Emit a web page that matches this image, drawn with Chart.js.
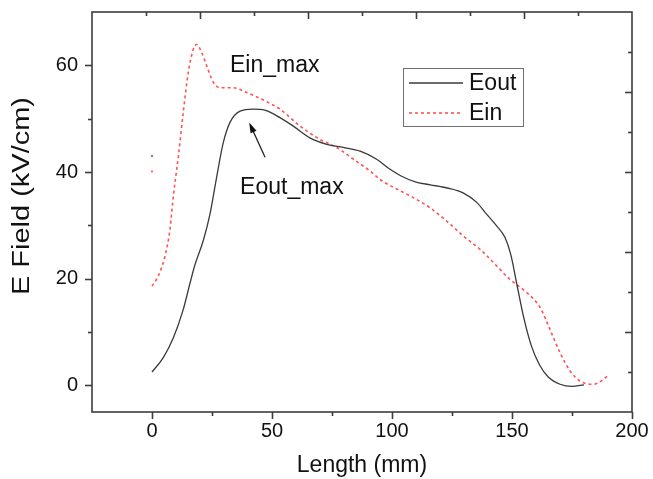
<!DOCTYPE html>
<html><head><meta charset="utf-8">
<script src="https://cdn.jsdelivr.net/npm/chart.js@4"></script>
<style>html,body{margin:0;padding:0;background:#fff;}#wrap{width:653px;height:479px;position:relative;}</style>
</head><body><div id="wrap"><canvas id="c" width="653" height="479"></canvas></div>
<script>
// ---- data ----
const eoutX = [0, 4.7, 8.9, 13, 15.8, 17.9, 21.4, 24.2, 27, 29.7, 32.5, 36.7, 42.2, 47, 53.3, 58.9, 65.8, 72.8, 79.7, 86.7, 93.6, 99.2, 104, 110, 116, 123, 130, 135.3, 139.4, 143.6, 147.1, 149.5, 152, 155, 158, 161.5, 165, 170, 175, 180];
const eoutY = [2.5, 5.2, 8.9, 14.2, 19.1, 22.6, 27.2, 32.2, 39.2, 45.5, 49.3, 51.4, 51.8, 51.6, 50.2, 48.6, 46.4, 45.2, 44.6, 43.9, 42.4, 40.5, 39.2, 38.1, 37.6, 37, 36, 34.3, 32.1, 29.9, 27.7, 24.5, 19, 12.5, 7.5, 3.8, 1.6, 0.2, -0.2, 0.1];
const einX = [0, 2.6, 5.4, 7.5, 8.9, 11, 13, 15.1, 17.2, 18.6, 20.7, 22.8, 25.6, 28.3, 33.9, 39.5, 45, 49, 53.3, 61.7, 70, 77, 83.9, 90.8, 95, 102, 108.9, 115.8, 122.8, 129.7, 136.7, 143.6, 148.8, 156.1, 161.7, 165.8, 170, 174.2, 178.3, 183.9, 188.1, 190.1];
const einY = [18.6, 20.5, 24.2, 29.3, 35.5, 43, 51.1, 58.6, 63, 63.9, 62.4, 59.9, 56.8, 55.8, 55.8, 54.9, 53.8, 52.9, 51.8, 48.6, 46.1, 44.6, 42.4, 40.2, 38.6, 36.8, 35.2, 33.3, 30.8, 28, 25.5, 22.4, 20, 17.4, 14.6, 10.5, 6.1, 2.7, 0.8, 0.2, 1.1, 1.9];
const seriesNames = ['Eout', 'Ein'];
const strayX = [0, 0];
const strayY = [43, 40.1];
const xTickLabels = [0, 50, 100, 150, 200];
const yTickLabels = [0, 20, 40, 60];
const noteText = ['Ein_max', 'Eout_max'];
const noteX = [32.5, 36.7];
const noteY = [58.7, 35.8];
const arrowFrom = [47.1, 42.75];
const arrowTo = [40.5, 49.3];

const FONT = '"Liberation Sans", Arial, Helvetica, sans-serif';
const pts = (xs, ys) => xs.map((v, i) => ({x: v, y: ys[i]}));

const framePlugin = {
  id: 'frame',
  afterDatasetsDraw(chart) {
    const {ctx, chartArea: a, scales: {x, y}} = chart;
    ctx.save();
    ctx.strokeStyle = '#3c3c3c';
    ctx.lineWidth = 1.6;
    const ln = (x1, y1, x2, y2) => { ctx.beginPath(); ctx.moveTo(x1, y1); ctx.lineTo(x2, y2); ctx.stroke(); };
    ctx.strokeRect(a.left, a.top, a.right - a.left, a.bottom - a.top);
    x.ticks.forEach(t => {
      const v = t.value;
      if (v <= x.min) return;
      const px = Math.round(x.getPixelForValue(v)) + 0.5;
      const L = (v % 50 === 0) ? 7 : 4;
      ln(px, a.bottom, px, a.bottom + L);
    });
    y.ticks.forEach(t => {
      const v = t.value;
      if (v <= y.min || v >= y.max || v % 10 !== 0) return;
      const py = Math.round(y.getPixelForValue(v)) + 0.5;
      const L = (v % 20 === 0) ? 7 : 4;
      ln(a.left - L, py, a.left, py);
    });
    for (let k = 1; k < 10; k++) {
      const L = (k % 2 === 0) ? 7 : 4;
      const px = Math.round(a.left + (a.right - a.left) * k / 10) + 0.5;
      ln(px, a.top, px, a.top + L);
      const py = Math.round(a.top + (a.bottom - a.top) * k / 10) + 0.5;
      ln(a.right - L, py, a.right, py);
    }
    ctx.restore();
  },
  afterDraw(chart) {
    const {ctx, scales: {x, y}} = chart;
    const ds = chart.data.datasets;
    ctx.save();
    ctx.strokeStyle = '#707070';
    ctx.lineWidth = 1;
    ctx.strokeRect(403.5, 68.5, 120, 58);
    ctx.font = '23px ' + FONT;
    ctx.fillStyle = '#111';
    ctx.textBaseline = 'middle';
    ctx.textAlign = 'left';
    const rows = [84, 114];
    for (let i = 0; i < 2; i++) {
      ctx.strokeStyle = ds[i].borderColor;
      ctx.lineWidth = ds[i].borderWidth;
      ctx.setLineDash(ds[i].borderDash || []);
      ctx.beginPath(); ctx.moveTo(409, rows[i] - 1); ctx.lineTo(463, rows[i] - 1); ctx.stroke();
      ctx.setLineDash([]);
      ctx.fillText(seriesNames[i], 469, rows[i]);
    }
    ctx.textBaseline = 'alphabetic';
    for (let i = 0; i < noteText.length; i++) {
      ctx.fillText(noteText[i], x.getPixelForValue(noteX[i]), y.getPixelForValue(noteY[i]));
    }
    const fx = x.getPixelForValue(arrowFrom[0]), fy = y.getPixelForValue(arrowFrom[1]);
    const tx = x.getPixelForValue(arrowTo[0]), ty = y.getPixelForValue(arrowTo[1]);
    const ang = Math.atan2(ty - fy, tx - fx);
    ctx.strokeStyle = '#222'; ctx.fillStyle = '#111'; ctx.lineWidth = 1.3;
    ctx.beginPath(); ctx.moveTo(fx, fy); ctx.lineTo(tx - 8 * Math.cos(ang), ty - 8 * Math.sin(ang)); ctx.stroke();
    ctx.beginPath();
    ctx.moveTo(tx, ty);
    ctx.lineTo(tx - 11 * Math.cos(ang - 0.3), ty - 11 * Math.sin(ang - 0.3));
    ctx.lineTo(tx - 11 * Math.cos(ang + 0.3), ty - 11 * Math.sin(ang + 0.3));
    ctx.closePath(); ctx.fill();
    ctx.save();
    ctx.translate(23, 196);
    ctx.rotate(-Math.PI / 2);
    ctx.font = '23px ' + FONT;
    const txt = 'E Field (kV/cm)';
    const w = ctx.measureText(txt).width;
    ctx.scale(198 / w, 1);
    ctx.textAlign = 'center';
    ctx.textBaseline = 'middle';
    ctx.fillStyle = '#111';
    ctx.fillText(txt, 0, 0);
    ctx.restore();
    ctx.restore();
  }
};

new Chart(document.getElementById('c'), {
  type: 'line',
  data: {
    datasets: [
      {label: seriesNames[0], data: pts(eoutX, eoutY), borderColor: '#3a3a3a', borderWidth: 1.3, pointRadius: 0, cubicInterpolationMode: 'monotone', fill: false},
      {label: seriesNames[1], data: pts(einX, einY), borderColor: '#ff5252', borderWidth: 1.6, borderDash: [3, 3], pointRadius: 0, cubicInterpolationMode: 'monotone', fill: false},
      {label: 's1', data: [{x: strayX[0], y: strayY[0]}], showLine: false, pointRadius: 1.2, pointBorderWidth: 0, backgroundColor: '#888', borderColor: '#888'},
      {label: 's2', data: [{x: strayX[1], y: strayY[1]}], showLine: false, pointRadius: 1.2, pointBorderWidth: 0, backgroundColor: '#ff7a7a', borderColor: '#ff7a7a'}
    ]
  },
  options: {
    responsive: false,
    animation: false,
    devicePixelRatio: 1,
    layout: {padding: {top: 12, right: 21, left: 0, bottom: 0}},
    plugins: {legend: {display: false}, tooltip: {enabled: false}},
    scales: {
      x: {
        type: 'linear', min: -25, max: 200,
        grid: {display: false, drawTicks: false},
        border: {display: false},
        ticks: {stepSize: 25, padding: 7, color: '#111', font: {size: 20, family: FONT}, maxRotation: 0, autoSkip: false,
          callback: v => xTickLabels.includes(v) ? String(v) : ''},
        title: {display: true, text: 'Length (mm)', color: '#111', font: {size: 23, family: FONT}, padding: {top: 0, bottom: 0}},
        afterFit: s => { s.height = 67; s.paddingLeft = 0; s.paddingRight = 0; }
      },
      y: {
        type: 'linear', min: -5, max: 70,
        grid: {display: false, drawTicks: false},
        border: {display: false},
        ticks: {stepSize: 10, padding: 14, color: '#111', font: {size: 20, family: FONT}, autoSkip: false,
          callback: v => yTickLabels.includes(v) ? String(v) : ''},
        afterFit: s => { s.width = 92; s.paddingTop = 0; s.paddingBottom = 0; }
      }
    }
  },
  plugins: [framePlugin]
});
</script>
</body></html>
